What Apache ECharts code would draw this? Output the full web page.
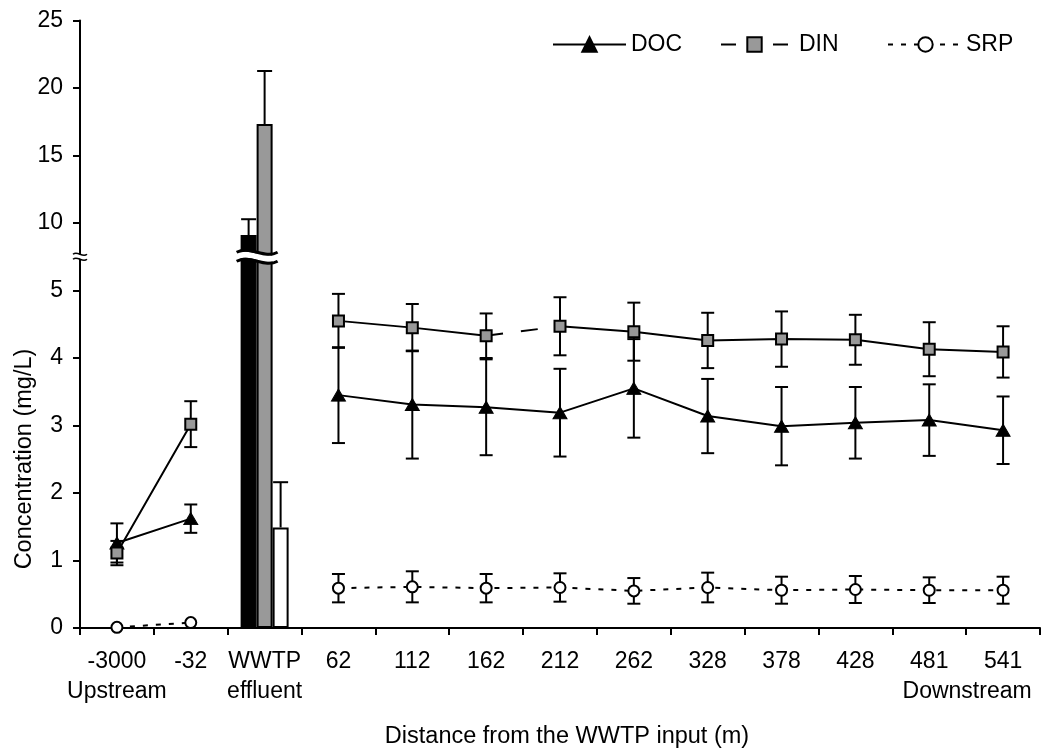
<!DOCTYPE html>
<html><head><meta charset="utf-8">
<script src="https://cdn.jsdelivr.net/npm/echarts@6/dist/echarts.min.js"></script>
<style>html,body{margin:0;padding:0;background:#fff}#c{width:1044px;height:753px}</style>
</head><body><div id="c"></div>
<script>
// ---------- data ----------
const categories = ['-3000','-32','WWTP','62','112','162','212','262','328','378','428','481','541'];
const subLabels = {'-3000':'Upstream','WWTP':'effluent','541':'Downstream'};
const docMean = [1.26,1.62,null,3.45,3.31,3.27,3.19,3.55,3.14,2.99,3.04,3.08,2.93];
const docErr  = [0.29,0.21,null,0.71,0.80,0.71,0.65,0.73,0.55,0.58,0.53,0.53,0.50];
const dinMean = [1.11,3.02,null,4.55,4.45,4.33,4.47,4.39,4.26,4.28,4.27,4.13,4.09];
const dinErr  = [0.18,0.34,null,0.40,0.35,0.33,0.43,0.43,0.41,0.41,0.37,0.40,0.38];
const srpMean = [0.01,0.08,null,0.59,0.61,0.59,0.60,0.55,0.60,0.56,0.57,0.56,0.56];
const srpErr  = [0,0,null,0.21,0.23,0.21,0.21,0.19,0.22,0.20,0.20,0.19,0.20];
const effluentCategory = 'WWTP';
const effluentMean = [9.11, 17.33, 1.49];   // DOC, DIN, SRP
const effluentErr  = [1.17, 3.93, 0.67];
const yTickLabels = [0,1,2,3,4,5,10,15,20,25];
const dinDashedFrom = '162', dinDashedTo = '212';
const breakLow = 5, breakHigh = 10;

// ---------- broken axis transform ----------
function tf(v){ return v <= breakLow ? v : 4 + v / 5; }
const breakPos = (tf(breakLow) + tf(breakHigh)) / 2;

const FONT = '"Liberation Sans", Arial, Helvetica, sans-serif';
const FS = 23;
const toLine = arr => arr.map(v => v == null ? '-' : tf(v));
const effIdx = categories.indexOf(effluentCategory);
const iFrom = categories.indexOf(dinDashedFrom), iTo = categories.indexOf(dinDashedTo);

const dinSolidA = dinMean.map((v,i) => i <= iFrom ? v : null);
const dinSolidB = dinMean.map((v,i) => i >= iTo ? v : null);
const dinDashed = dinMean.map((v,i) => (i === iFrom || i === iTo) ? v : null);
const onlyEff = val => categories.map((c,i) => i === effIdx ? val : null);

const BARW = 16;

function errSeries(means, errs, offset, upOnly, capHalf){
  const data = [];
  means.forEach((v,i) => { if (v != null && errs[i]) data.push([i, v, errs[i]]); });
  return {
    type: 'custom', z: 2, silent: true,
    data: data,
    encode: {x: 0, y: 1},
    renderItem: function(params, api){
      const x = api.value(0), v = api.value(1), e = api.value(2);
      const hi = api.coord([x, tf(v + e)]);
      const c = api.coord([x, tf(v)]);
      const lo = upOnly ? c : api.coord([x, tf(v - e)]);
      const cx = hi[0] + offset;
      const st = {stroke: '#000', lineWidth: 2};
      const ch = [
        {type:'line', shape:{x1:cx, y1:hi[1], x2:cx, y2:lo[1]}, style:st},
        {type:'line', shape:{x1:cx-capHalf, y1:hi[1], x2:cx+capHalf, y2:hi[1]}, style:st}
      ];
      if (!upOnly) ch.push({type:'line', shape:{x1:cx-capHalf, y1:lo[1], x2:cx+capHalf, y2:lo[1]}, style:st});
      return {type:'group', children: ch};
    }
  };
}

function wavePath(x0, x1, y, amp){
  const w = x1 - x0;
  return `M${x0} ${y} C${x0 + w/3} ${y - amp} ${x0 + 2*w/3} ${y + amp} ${x1} ${y}`;
}
function bandPath(x0, x1, y, half, amp){
  const w = x1 - x0;
  return `M${x0} ${y-half} C${x0 + w/3} ${y-half-amp} ${x0 + 2*w/3} ${y-half+amp} ${x1} ${y-half}` +
         ` L${x1} ${y+half} C${x0 + 2*w/3} ${y+half+amp} ${x0 + w/3} ${y+half-amp} ${x0} ${y+half} Z`;
}

const breakSeries = {
  type: 'custom', z: 20, silent: true,
  data: [[effIdx, breakPos]],
  encode: {x: 0, y: 1},
  renderItem: function(params, api){
    const p = api.coord([api.value(0), api.value(1)]);
    const catW = api.size([1, 0])[0];
    const children = [];
    const bx0 = p[0] - BARW*1.5 - 4, bx1 = p[0] + BARW*0.5 + 5;
    children.push({type:'path', shape:{pathData: bandPath(bx0, bx1, p[1], 3, 7)}, style:{fill:'#fff', stroke:null}});
    children.push({type:'path', shape:{pathData: wavePath(bx0, bx1, p[1]-4.5, 7)}, style:{fill:null, stroke:'#000', lineWidth:3}});
    children.push({type:'path', shape:{pathData: wavePath(bx0, bx1, p[1]+4.5, 7)}, style:{fill:null, stroke:'#000', lineWidth:3}});
    const ax = p[0] - catW * (api.value(0) + 0.5);
    children.push({type:'path', shape:{pathData: bandPath(ax-7, ax+7, p[1], 2, 4)}, style:{fill:'#fff', stroke:null}});
    children.push({type:'path', shape:{pathData: wavePath(ax-7, ax+7, p[1]-2.5, 4)}, style:{fill:null, stroke:'#000', lineWidth:1.5}});
    children.push({type:'path', shape:{pathData: wavePath(ax-7, ax+7, p[1]+2.5, 4)}, style:{fill:null, stroke:'#000', lineWidth:1.5}});
    return {type:'group', children: children};
  }
};

const barData = k => categories.map((c,i) => i === effIdx ? tf(effluentMean[k]) : '-');

const richBase = {fontSize: FS, fontFamily: FONT, color: '#000', lineHeight: 30};

const option = {
  animation: false,
  backgroundColor: '#fff',
  textStyle: {fontFamily: FONT},
  grid: {left: 80, right: 4, top: 20.5, bottom: 125, containLabel: false, outerBoundsMode: 'none'},
  xAxis: {
    type: 'category', data: categories,
    axisLine: {lineStyle: {color: '#000', width: 2}},
    axisTick: {show: true, length: 7, lineStyle: {color: '#000', width: 2}},
    axisLabel: {
      margin: 19, interval: 0, color: '#000', fontSize: FS, fontFamily: FONT, lineHeight: 30,
      formatter: function(v){
        const sub = subLabels[v];
        if (!sub) return '{a|' + v + '}';
        if (v === categories[categories.length-1]) return '{a|' + v + '}\n{r|' + sub + '}';
        return '{a|' + v + '}\n{a|' + sub + '}';
      },
      rich: {a: richBase, r: Object.assign({}, richBase, {padding: [0, 72, 0, 0]})}
    },
    splitLine: {show: false},
    name: 'Distance from the WWTP input (m)', nameLocation: 'middle', nameGap: 97,
    nameTextStyle: {fontSize: 23.5, fontFamily: FONT, color: '#000', padding: [0, 0, 0, 14]}
  },
  yAxis: {
    type: 'value', min: 0, max: yTickLabels.length - 1, interval: 1,
    axisLine: {show: true, lineStyle: {color: '#000', width: 2}},
    axisTick: {show: true, length: 7, lineStyle: {color: '#000', width: 2}},
    axisLabel: {margin: 17, color: '#000', fontSize: FS, fontFamily: FONT,
      formatter: v => String(yTickLabels[Math.round(v)])},
    splitLine: {show: false}
  },
  graphic: [{
    type: 'text', x: 25, y: 459, rotation: Math.PI/2,
    style: {text: 'Concentration (mg/L)', fontSize: 23.5, fontFamily: FONT, fill: '#000', align: 'center', verticalAlign: 'middle'}
  }],
  legend: [
    {data: ['DOC'], left: 552, top: 33, itemWidth: 73, itemHeight: 18, padding: 0, selectedMode: false,
     textStyle: {fontSize: FS, fontFamily: FONT, color: '#000'}},
    {data: ['DIN'], left: 720, top: 33, itemWidth: 67, itemHeight: 18, padding: 0, selectedMode: false,
     lineStyle: {type: [15, 37], width: 2, color: '#000'},
     textStyle: {fontSize: FS, fontFamily: FONT, color: '#000', padding: [0,0,0,6]}},
    {data: ['SRP'], left: 887, top: 33, itemWidth: 75, itemHeight: 18, padding: 0, selectedMode: false,
     lineStyle: {type: [5, 8], width: 2, color: '#000'},
     textStyle: {fontSize: FS, fontFamily: FONT, color: '#000', padding: [0,0,0,-2]}}
  ],
  series: [
    {type: 'bar', name: 'DOC effluent', data: barData(0), barWidth: BARW, barGap: '0%', z: 1,
     itemStyle: {color: '#000', borderColor: '#000', borderWidth: 1.5}},
    {type: 'bar', name: 'DIN effluent', data: barData(1), barWidth: BARW, barGap: '0%', z: 1,
     itemStyle: {color: '#999999', borderColor: '#000', borderWidth: 2}},
    {type: 'bar', name: 'SRP effluent', data: barData(2), barWidth: BARW, barGap: '0%', z: 1,
     itemStyle: {color: '#fff', borderColor: '#000', borderWidth: 2}},
    errSeries(onlyEff(effluentMean[0]), onlyEff(effluentErr[0]), -BARW, true, 7.5),
    errSeries(onlyEff(effluentMean[1]), onlyEff(effluentErr[1]), 0, true, 7.5),
    errSeries(onlyEff(effluentMean[2]), onlyEff(effluentErr[2]), BARW, true, 7.5),
    errSeries(docMean, docErr, 0, false, 6.5),
    errSeries(dinMean, dinErr, 0, false, 6.5),
    errSeries(srpMean, srpErr, 0, false, 6.5),
    {type: 'line', name: 'DIN', data: toLine(dinDashed), z: 3, showSymbol: false, symbol: 'rect',
     lineStyle: {color: '#000', width: 2, type: [17, 18]},
     itemStyle: {color: '#999999', borderColor: '#000', borderWidth: 2}},
    {type: 'line', name: 'DOC', data: toLine(docMean), z: 4, symbol: 'triangle', symbolSize: [14, 12],
     lineStyle: {color: '#000', width: 2}, itemStyle: {color: '#000', borderColor: '#000', borderWidth: 1}},
    {type: 'line', name: 'DIN', data: toLine(dinSolidA), z: 4, symbol: 'rect', symbolSize: 11,
     lineStyle: {color: '#000', width: 2}, itemStyle: {color: '#999999', borderColor: '#000', borderWidth: 2}},
    {type: 'line', name: 'DIN', data: toLine(dinSolidB), z: 4, symbol: 'rect', symbolSize: 11,
     lineStyle: {color: '#000', width: 2}, itemStyle: {color: '#999999', borderColor: '#000', borderWidth: 2}},
    {type: 'line', name: 'SRP', data: toLine(srpMean), z: 4, symbol: 'circle', symbolSize: 11,
     lineStyle: {color: '#000', width: 2, type: [5, 8]}, itemStyle: {color: '#fff', borderColor: '#000', borderWidth: 2}},
    breakSeries
  ]
};
const chart = echarts.init(document.getElementById('c'), null, {renderer: 'canvas'});
chart.setOption(option);
</script></body></html>
